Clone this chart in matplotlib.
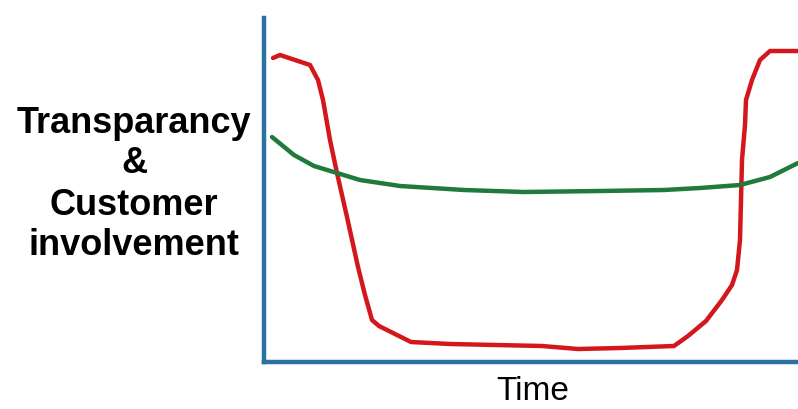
import matplotlib
matplotlib.use('Agg')
import matplotlib.pyplot as plt

# values (x: time, y: level), origin at axes corner
red_t = [9, 16, 31, 46, 54, 59, 66, 73, 83, 94, 101, 108, 115, 131, 147, 186,
         278, 314, 356, 410, 424, 442, 458, 468, 473, 476, 477, 478, 481,
         482, 488, 496, 506, 534]
red_y = [302, 305, 300, 295, 280, 260, 220, 187, 143, 93, 65, 40, 34, 26,
         18, 16, 14, 11, 12, 14, 24, 39, 60, 75, 90, 120, 160, 200, 235,
         260, 280, 300, 309, 309]
green_t = [8, 30, 50, 73, 96, 136, 200, 260, 336, 400, 436, 476, 506, 534]
green_y = [223, 205, 194, 187, 180, 174, 170, 168, 169, 170, 172, 175, 183, 197]

ylabel_lines = ['Transparancy', '&', 'Customer', 'involvement']
xlabel = 'Time'

W, H = 798, 409
fig = plt.figure(figsize=(W / 100, H / 100), dpi=100)
ax = fig.add_axes([264 / W, 47 / H, 1 - 264 / W, 344 / H])
ax.set_xlim(0, 534)
ax.set_ylim(-2, 342)

ax.plot(red_t, red_y, color='#d4161d', lw=3.2, solid_capstyle='round',
        solid_joinstyle='round', clip_on=False)
ax.plot(green_t, green_y, color='#1f7a3c', lw=3.2, solid_capstyle='round',
        clip_on=False)

for s in ('top', 'right'):
    ax.spines[s].set_visible(False)
for s in ('left', 'bottom'):
    ax.spines[s].set_color('#2a73a0')
    ax.spines[s].set_linewidth(3.2)
ax.set_xticks([])
ax.set_yticks([])

baselines = [133, 173, 215, 255]
for line, yb in zip(ylabel_lines, baselines):
    fig.text(134 / W, 1 - yb / H, line, ha='center', va='baseline',
             fontsize=26, fontweight='bold', family='Liberation Sans')

fig.text(533 / W, 1 - 400 / H, xlabel, ha='center', va='baseline',
         fontsize=24, family='Liberation Sans')

fig.savefig('out.png', dpi=100)
